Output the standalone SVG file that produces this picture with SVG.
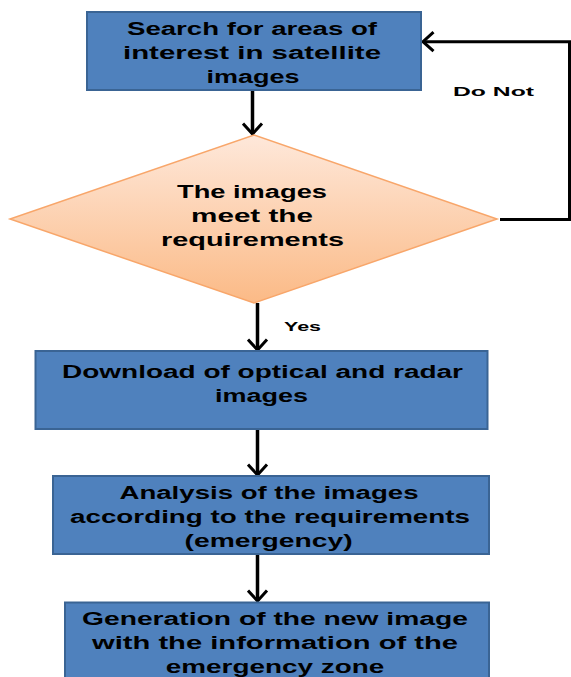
<svg xmlns="http://www.w3.org/2000/svg" width="571" height="677" viewBox="0 0 571 677">
<style>
.box{fill:#4F81BD;stroke:#3A6494;stroke-width:2}
.t{font-family:"Liberation Sans",Arial,sans-serif;font-weight:bold;font-size:17.5px;fill:#000;text-anchor:middle}
.s{font-family:"Liberation Sans",Arial,sans-serif;font-weight:bold;font-size:13.5px;fill:#000;text-anchor:middle}
.c{fill:none;stroke:#000;stroke-width:3.5}
.f{fill:none;stroke:#000;stroke-width:3}
</style>
<defs>
<linearGradient id="dg" x1="0" y1="0" x2="0" y2="1">
<stop offset="0" stop-color="#FEE8DA"/>
<stop offset="1" stop-color="#FBBA86"/>
</linearGradient>
<marker id="ah" viewBox="0 0 14 22" refX="12" refY="11" markerWidth="14" markerHeight="22" markerUnits="userSpaceOnUse" orient="auto">
<path d="M1.5,1.5 L12,11 L1.5,20.5" fill="none" stroke="#000" stroke-width="3"/>
</marker>
</defs>
<g id="connectors">
<line class="c" x1="252.5" y1="90" x2="252.5" y2="134" marker-end="url(#ah)"/>
<line class="c" x1="257.5" y1="303" x2="257.5" y2="350" marker-end="url(#ah)"/>
<line class="c" x1="257.5" y1="430" x2="257.5" y2="475" marker-end="url(#ah)"/>
<line class="c" x1="257.5" y1="555" x2="257.5" y2="601" marker-end="url(#ah)"/>
<polyline class="f" points="500,219.5 569.5,219.5 569.5,41.7 423,41.7" marker-end="url(#ah)"/>
<text class="s" x="493.5" y="95.7" textLength="81" lengthAdjust="spacingAndGlyphs">Do Not</text>
<text class="s" x="302.5" y="330.7" textLength="37" lengthAdjust="spacingAndGlyphs">Yes</text>
</g>
<g id="node1">
<rect class="box" x="87" y="12" width="334" height="78"/>
<text class="t" x="252" y="35" textLength="250" lengthAdjust="spacingAndGlyphs">Search for areas of</text>
<text class="t" x="252" y="59" textLength="258" lengthAdjust="spacingAndGlyphs">interest in satellite</text>
<text class="t" x="253" y="83" textLength="93" lengthAdjust="spacingAndGlyphs">images</text>
</g>
<g id="node2">
<polygon points="254,135 497,219 254,303 10,219" fill="url(#dg)" stroke="#F8A66A" stroke-width="1.5"/>
<text class="t" x="252" y="197.5" textLength="150" lengthAdjust="spacingAndGlyphs">The images</text>
<text class="t" x="252" y="221.8" textLength="122" lengthAdjust="spacingAndGlyphs">meet the</text>
<text class="t" x="252.5" y="246" textLength="183" lengthAdjust="spacingAndGlyphs">requirements</text>
</g>
<g id="node3">
<rect class="box" x="35.5" y="351" width="452" height="78"/>
<text class="t" x="262.5" y="378.3" textLength="401" lengthAdjust="spacingAndGlyphs">Download of optical and radar</text>
<text class="t" x="261.5" y="402" textLength="93" lengthAdjust="spacingAndGlyphs">images</text>
</g>
<g id="node4">
<rect class="box" x="53" y="476" width="436" height="78"/>
<text class="t" x="269" y="499" textLength="299" lengthAdjust="spacingAndGlyphs">Analysis of the images</text>
<text class="t" x="270" y="523.3" textLength="400" lengthAdjust="spacingAndGlyphs">according to the requirements</text>
<text class="t" x="268.6" y="546.7" textLength="168" lengthAdjust="spacingAndGlyphs">(emergency)</text>
</g>
<g id="node5">
<rect class="box" x="65" y="602.5" width="424" height="90"/>
<text class="t" x="275" y="625" textLength="386" lengthAdjust="spacingAndGlyphs">Generation of the new image</text>
<text class="t" x="275" y="649.3" textLength="366" lengthAdjust="spacingAndGlyphs">with the information of the</text>
<text class="t" x="275" y="673.3" textLength="218.5" lengthAdjust="spacingAndGlyphs">emergency zone</text>
</g>
</svg>
